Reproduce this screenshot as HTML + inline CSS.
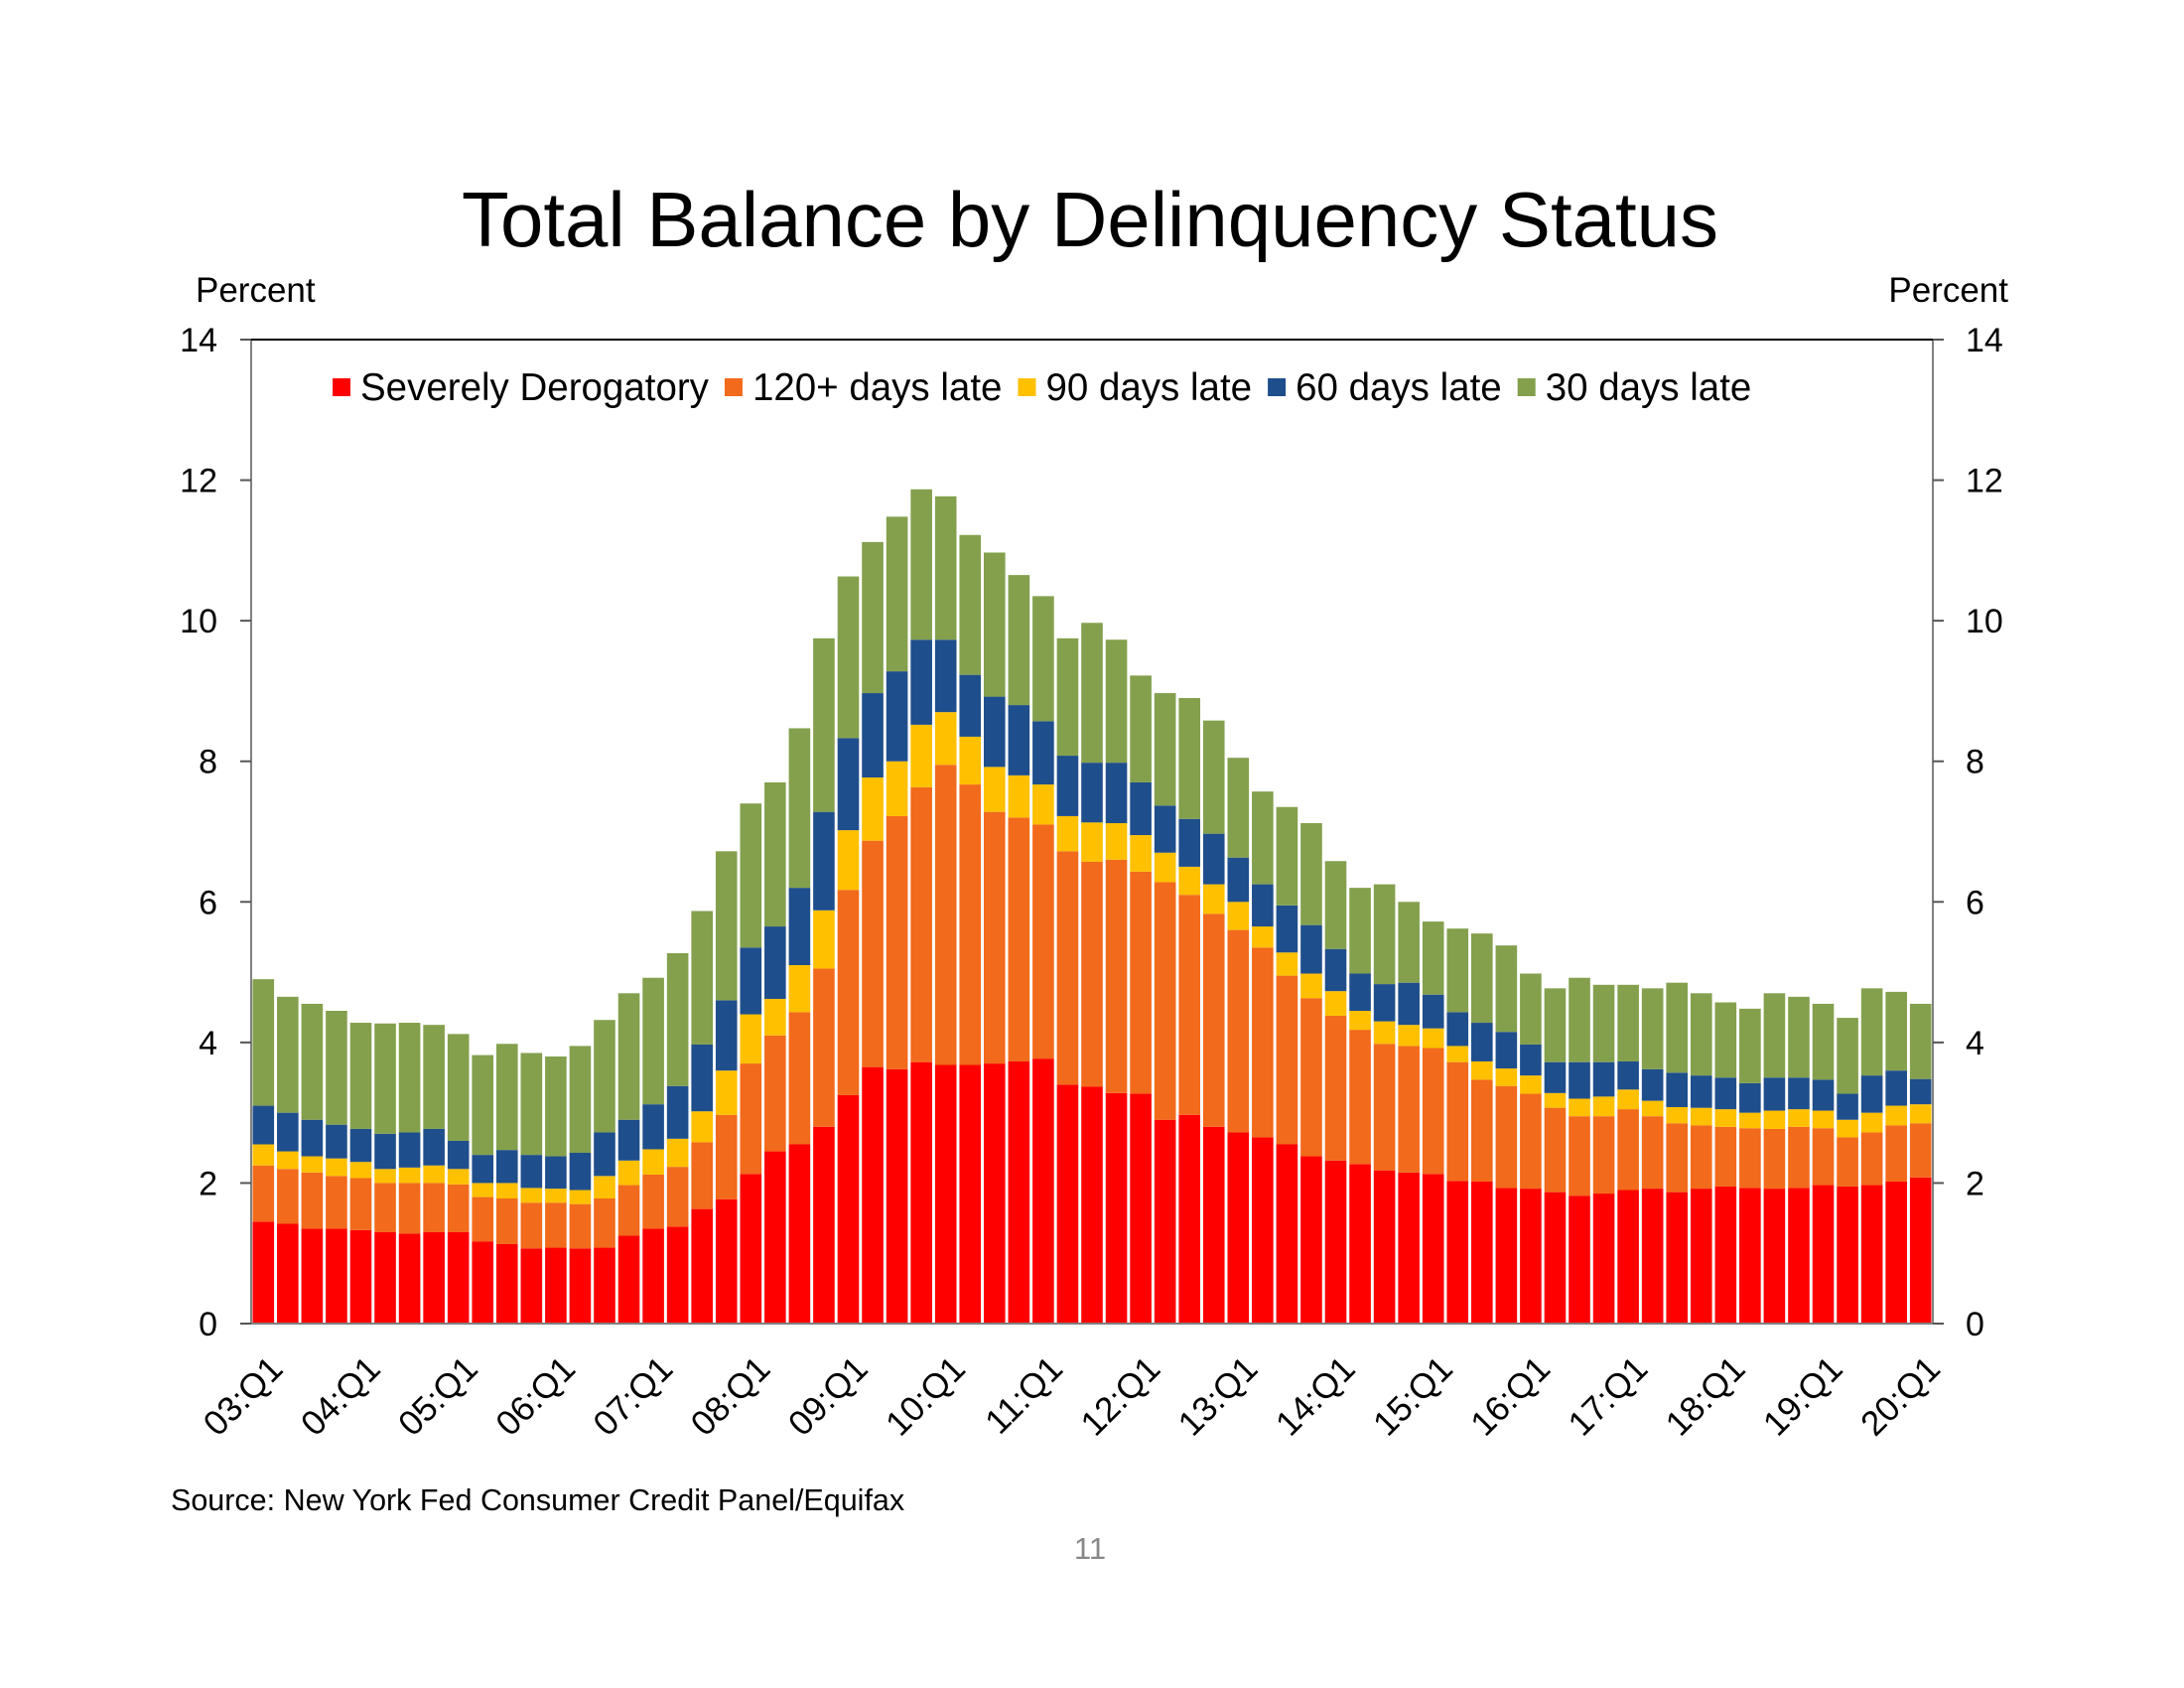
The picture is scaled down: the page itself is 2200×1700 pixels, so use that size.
<!DOCTYPE html>
<html><head><meta charset="utf-8"><style>
html,body{margin:0;padding:0;background:#fff;}
svg{display:block;font-family:"Liberation Sans",Arial,sans-serif;}
</style></head><body>
<svg id="chart" width="2200" height="1700" viewBox="0 0 2200 1700">
<text x="1098" y="248" font-size="78" text-anchor="middle" fill="#000">Total Balance by Delinquency Status</text>
<text x="197" y="304" font-size="35" fill="#000">Percent</text>
<text x="2023" y="304" font-size="35" text-anchor="end" fill="#000">Percent</text>
<g id="bars"></g>
<g id="axes"></g>
<g id="legend"></g>
<text x="172" y="1521" font-size="30.5" fill="#000">Source: New York Fed Consumer Credit Panel/Equifax</text>
<text x="1098" y="1570" font-size="31" text-anchor="middle" fill="#888">11</text>
</svg>
<script>
// cumulative tops of each stacked series (percent)
const severeTop=[1.45,1.42,1.35,1.35,1.33,1.3,1.28,1.3,1.3,1.17,1.13,1.07,1.08,1.07,1.08,1.25,1.35,1.38,1.63,1.77,2.13,2.45,2.55,2.8,3.25,3.65,3.62,3.72,3.68,3.68,3.7,3.73,3.77,3.4,3.37,3.28,3.27,2.9,2.97,2.8,2.72,2.65,2.55,2.38,2.32,2.27,2.18,2.15,2.13,2.03,2.02,1.93,1.92,1.87,1.82,1.85,1.9,1.92,1.87,1.92,1.95,1.93,1.92,1.93,1.97,1.95,1.97,2.02,2.08];
const late120Top=[2.25,2.2,2.15,2.1,2.07,2.0,2.0,2.0,1.98,1.8,1.78,1.72,1.72,1.7,1.78,1.97,2.12,2.23,2.58,2.97,3.7,4.1,4.43,5.05,6.17,6.87,7.22,7.63,7.95,7.67,7.28,7.2,7.1,6.72,6.57,6.6,6.43,6.28,6.1,5.83,5.6,5.35,4.95,4.63,4.38,4.18,3.98,3.95,3.92,3.72,3.47,3.38,3.27,3.07,2.95,2.95,3.05,2.95,2.85,2.82,2.8,2.78,2.77,2.8,2.78,2.65,2.72,2.82,2.85];
const late90Top=[2.55,2.45,2.38,2.35,2.3,2.2,2.22,2.25,2.2,2.0,2.0,1.93,1.92,1.9,2.1,2.32,2.48,2.63,3.02,3.6,4.4,4.62,5.1,5.88,7.02,7.77,8.0,8.52,8.7,8.35,7.92,7.8,7.67,7.22,7.13,7.12,6.95,6.7,6.5,6.25,6.0,5.65,5.28,4.98,4.73,4.45,4.3,4.25,4.2,3.95,3.73,3.63,3.53,3.28,3.2,3.23,3.33,3.17,3.08,3.07,3.05,3.0,3.03,3.05,3.03,2.9,3.0,3.1,3.12];
const late60Top=[3.1,3.0,2.9,2.83,2.77,2.7,2.72,2.77,2.6,2.4,2.47,2.4,2.38,2.43,2.72,2.9,3.12,3.38,3.97,4.6,5.35,5.65,6.2,7.28,8.33,8.97,9.28,9.73,9.73,9.23,8.92,8.8,8.57,8.08,7.98,7.98,7.7,7.37,7.18,6.97,6.63,6.25,5.95,5.67,5.33,4.98,4.83,4.85,4.68,4.43,4.28,4.15,3.97,3.72,3.72,3.72,3.73,3.62,3.57,3.53,3.5,3.42,3.5,3.5,3.47,3.27,3.53,3.6,3.48];
const late30Top=[4.9,4.65,4.55,4.45,4.28,4.27,4.28,4.25,4.12,3.82,3.98,3.85,3.8,3.95,4.32,4.7,4.92,5.27,5.87,6.72,7.4,7.7,8.47,9.75,10.63,11.12,11.48,11.87,11.77,11.22,10.97,10.65,10.35,9.75,9.97,9.73,9.22,8.97,8.9,8.58,8.05,7.57,7.35,7.12,6.58,6.2,6.25,6.0,5.72,5.62,5.55,5.38,4.98,4.77,4.92,4.82,4.82,4.77,4.85,4.7,4.57,4.48,4.7,4.65,4.55,4.35,4.77,4.72,4.55];
const yTicks=[0,2,4,6,8,10,12,14];
const seriesNames=["Severely Derogatory","120+ days late","90 days late","60 days late","30 days late"];
const NS="http://www.w3.org/2000/svg";
const L=253,R=1947,T=342,B=1333,YMAX=14;
const colors=["#FF0000","#F26A1B","#FFC000","#1F4E8C","#84A04D"];
const n=severeTop.length;
const slot=(R-L)/n;
const x=i=>L+slot*i;
const y=v=>B-(v/YMAX)*(B-T);
function mk(tag,attrs,parent){const e=document.createElementNS(NS,tag);for(const k in attrs)e.setAttribute(k,attrs[k]);parent.appendChild(e);return e;}
const bars=document.getElementById('bars'),axes=document.getElementById('axes'),legend=document.getElementById('legend');
const tops=[severeTop,late120Top,late90Top,late60Top,late30Top];
const keys=["severe","late120","late90","late60","late30"];
for(let i=0;i<n;i++){
  let prev=0;
  for(let s=0;s<5;s++){
    const v=tops[s][i];
    const r=mk('rect',{x:x(i)+slot*0.06,y:y(v),width:slot*0.88,height:Math.max(0,y(prev)-y(v)),fill:colors[s]},bars);
    
    
    prev=v;
  }
}
const fr=mk('rect',{x:L,y:T,width:R-L,height:B-T,fill:'none',stroke:'#808080','stroke-width':2},axes);


mk('line',{x1:L,y1:T,x2:R,y2:T,stroke:'#000','stroke-width':2},axes);
yTicks.forEach(t=>{
  mk('line',{x1:L-11,y1:y(t),x2:L,y2:y(t),stroke:'#555','stroke-width':2},axes);
  mk('line',{x1:R,y1:y(t),x2:R+11,y2:y(t),stroke:'#555','stroke-width':2},axes);
  const a=mk('text',{x:219,y:y(t)+12,'font-size':34,'text-anchor':'end',fill:'#000'},axes);a.textContent=t;
  
  
  const b=mk('text',{x:1980,y:y(t)+12,'font-size':34,fill:'#000'},axes);b.textContent=t;
  
  
});
for(let i=0;i<n;i+=4){
  const yr=3+i/4;
  const lab=(yr<10?'0':'')+yr+':Q1';
  const cx=x(i)+slot/2+4, cy=B+30;
  const t=mk('text',{x:cx,y:cy,'font-size':35,'text-anchor':'end',fill:'#000',transform:`rotate(-45 ${cx} ${cy})`,'dominant-baseline':'hanging'},axes);
  t.textContent=lab;
  
  
}
let lx=335;
seriesNames.forEach((nm,s)=>{
  const g=mk('g',{},legend);
  
  
  mk('rect',{x:lx,y:381,width:18,height:18,fill:colors[s]},g);
  const t=mk('text',{x:lx+28,y:403,'font-size':38.5,fill:'#000'},g);t.textContent=nm;
  lx+=28+t.getComputedTextLength()+16;
});
</script>
</body></html>
